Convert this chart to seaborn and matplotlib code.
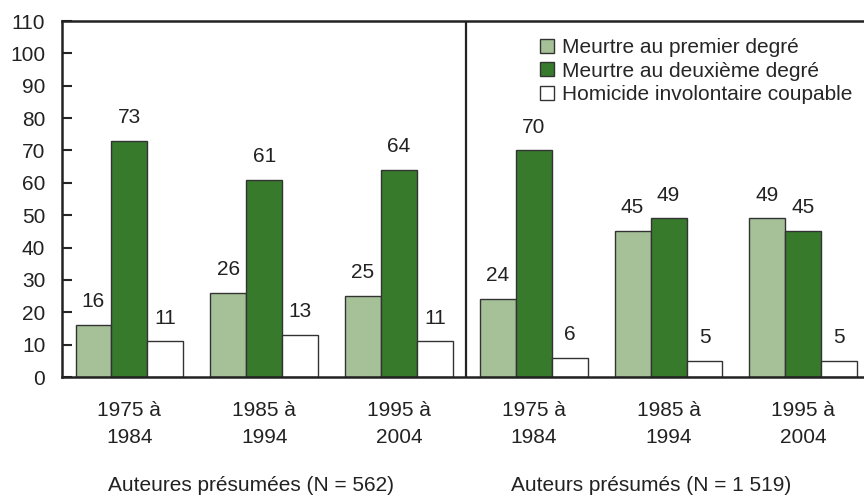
import pandas as pd
import numpy as np
import matplotlib
matplotlib.use("Agg")
import matplotlib.pyplot as plt
import seaborn as sns

# données
groupes = ["f1975", "f1985", "f1995", "h1975", "h1985", "h1995"]
periodes = ["1975 à\n1984", "1985 à\n1994", "1995 à\n2004",
            "1975 à\n1984", "1985 à\n1994", "1995 à\n2004"]
types = ["Meurtre au premier degré", "Meurtre au deuxième degré",
         "Homicide involontaire coupable"]
premier = [16, 26, 25, 24, 45, 49]
deuxieme = [73, 61, 64, 70, 49, 45]
involontaire = [11, 13, 11, 6, 5, 5]
titres = ["Auteures présumées (N = 562)", "Auteurs présumés (N = 1 519)"]

couleurs = ["#a6c198", "#377a2c", "#ffffff"]

df = pd.DataFrame({
    "groupe": groupes * 3,
    "type": [types[0]] * 6 + [types[1]] * 6 + [types[2]] * 6,
    "pct": premier + deuxieme + involontaire,
})

fs = 15

sns.set_style("white")
plt.rcParams["font.family"] = ["Liberation Sans", "DejaVu Sans"]
plt.rcParams["font.size"] = fs

fig = plt.figure(figsize=(8.64, 4.97), dpi=100)
ax = fig.add_axes([0.0718, 0.2414, 0.9282, 0.7163])

sns.barplot(data=df, x="groupe", y="pct", hue="type", order=groupes,
            hue_order=types, palette=couleurs, width=0.8, saturation=1,
            edgecolor="#333333", linewidth=1.0, ax=ax, legend=True)

for cont in ax.containers:
    ax.bar_label(cont, padding=10, fontsize=fs, color="#222222")

ax.set_ylim(0, 110)
ax.set_xlim(-0.5, 5.45)
ax.set_yticks(range(0, 111, 10))
ax.set_xticks(range(6))
ax.set_xticklabels(periodes, linespacing=1.55)
ax.set_xlabel("")
ax.set_ylabel("")
ax.tick_params(axis="y", direction="in", length=7, width=1.5, pad=12,
               labelsize=fs, left=True, labelcolor="#222222")
ax.tick_params(axis="x", length=0, pad=17, labelsize=fs, labelcolor="#222222")

for s in ["left", "top", "bottom"]:
    ax.spines[s].set_linewidth(1.8)
    ax.spines[s].set_color("#222222")
ax.spines["right"].set_visible(False)

ax.axvline(2.5, color="#222222", linewidth=1.6)

trans = matplotlib.transforms.blended_transform_factory(ax.transData, ax.transAxes)
ax.text(0.9, -0.32, titres[0], transform=trans, ha="center", va="baseline",
        fontsize=fs, color="#222222")
ax.text(3.87, -0.32, titres[1], transform=trans, ha="center", va="baseline",
        fontsize=fs, color="#222222")

ax.legend(loc="upper left", bbox_to_anchor=(0.596, 0.952), frameon=False,
          borderpad=0, borderaxespad=0, handlelength=0.65, handleheight=0.65,
          handletextpad=0.4, labelspacing=0.22, fontsize=fs)

fig.savefig("out.png", dpi=100)
